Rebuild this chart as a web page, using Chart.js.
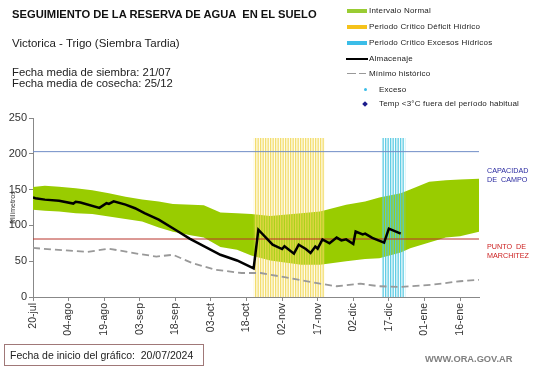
<!DOCTYPE html>
<html>
<head>
<meta charset="utf-8">
<script src="https://cdn.jsdelivr.net/npm/chart.js@4/dist/chart.umd.min.js"></script>
<style>
  body { margin:0; width:541px; height:368px; position:relative; background:#fff; overflow:hidden;
         font-family: Arial, "Liberation Sans", sans-serif; color:#111; }
  .t { position:absolute; white-space:pre; line-height:1; }
  .lg { position:absolute; white-space:pre; line-height:1; font-size:8px; color:#222; letter-spacing:0.2px; }
  .sw { position:absolute; }
</style>
</head>
<body>
<canvas id="chart" width="541" height="368" style="position:absolute;left:0;top:0"></canvas>

<div class="t" style="left:12px;top:9px;font-size:11.2px;font-weight:bold;">SEGUIMIENTO DE LA RESERVA DE AGUA  EN EL SUELO</div>
<div class="t" style="left:12px;top:38px;font-size:11.5px;color:#222;">Victorica - Trigo (Siembra Tardia)</div>
<div class="t" style="left:12px;top:66.5px;font-size:11.3px;color:#222;">Fecha media de siembra: 21/07</div>
<div class="t" style="left:12px;top:78px;font-size:11.3px;color:#222;">Fecha media de cosecha: 25/12</div>

<!-- leyenda -->
<div class="sw" style="left:347px;top:9px;width:20px;height:4px;background:#99cc33"></div>
<div class="lg" style="left:369px;top:7px">Intervalo Normal</div>
<div class="sw" style="left:347px;top:25px;width:20px;height:4px;background:#f5c21a"></div>
<div class="lg" style="left:369px;top:23px">Periodo Crítico Déficit Hídrico</div>
<div class="sw" style="left:347px;top:41px;width:20px;height:4px;background:#3bbde8"></div>
<div class="lg" style="left:369px;top:39px">Periodo Crítico Excesos Hídricos</div>
<div class="sw" style="left:346px;top:58px;width:22px;height:2px;background:#000"></div>
<div class="lg" style="left:369px;top:55px">Almacenaje</div>
<div class="sw" style="left:347px;top:72.5px;width:9px;height:1.6px;background:#999"></div>
<div class="sw" style="left:359px;top:72.5px;width:7px;height:1.6px;background:#999"></div>
<div class="lg" style="left:369px;top:70px">Mínimo histórico</div>
<div class="sw" style="left:363.5px;top:88px;width:3px;height:3px;border-radius:50%;background:#3bbde8"></div>
<div class="lg" style="left:379px;top:85.5px">Exceso</div>
<div class="sw" style="left:363px;top:101.5px;width:4px;height:4px;background:#1c1c8c;transform:rotate(45deg)"></div>
<div class="lg" style="left:379px;top:100px">Temp &lt;3°C fuera del período habitual</div>

<!-- etiquetas de referencia -->
<div class="t" style="left:487px;top:166.5px;font-size:7.2px;color:#2a2aa0;">CAPACIDAD</div>
<div class="t" style="left:487px;top:175.5px;font-size:7.2px;color:#2a2aa0;">DE  CAMPO</div>
<div class="t" style="left:487px;top:243px;font-size:7.2px;color:#cc2020;">PUNTO  DE</div>
<div class="t" style="left:487px;top:252px;font-size:7.2px;color:#cc2020;">MARCHITEZ</div>

<div style="position:absolute;left:4px;top:344px;width:200px;height:22px;border:1px solid #a07878;box-sizing:border-box;"></div>
<div class="t" style="left:10px;top:350px;font-size:10.5px;color:#222;">Fecha de inicio del gráfico:  20/07/2024</div>
<div class="t" style="left:425px;top:354.5px;font-size:9.3px;font-weight:bold;color:#808080;">WWW.ORA.GOV.AR</div>

<script>
// dias desde el 20/07 (inicio del grafico)
const tickLabels = ['20-jul','04-ago','19-ago','03-sep','18-sep','03-oct','18-oct','02-nov','17-nov','02-dic','17-dic','01-ene','16-ene'];
const axisDays = [0, 188];

// intervalo normal (banda verde)
const bandDays   = [0, 5, 11, 18, 25, 32, 39, 46, 53, 59, 67, 72, 79, 86, 92, 100, 113, 121, 132, 140, 146, 155, 159, 167, 174, 180, 188];
const bandTop    = [153.5, 155.5, 154, 152, 149, 145, 140, 136, 133.5, 130, 129, 128, 118, 117, 116, 113, 117, 119.5, 129, 133.5, 139, 145, 150, 161, 163, 164, 165];
const bandBottom = [122, 120.5, 119.5, 117, 116, 112.5, 109, 105.5, 97, 91, 86, 83, 70, 66, 58, 51, 45, 45, 50, 53, 54, 62, 68, 76, 83, 85, 91];

// almacenaje
const storageDays = [0, 1, 5, 11, 17, 18, 20, 28, 31, 32, 34, 39, 43, 47, 53, 60, 66, 79, 86, 93, 95, 101, 105, 106, 110, 112, 115, 117, 119, 120, 122, 125, 128, 130, 132, 135, 136, 139, 140, 143, 148, 150, 155];
const storageMm   = [139, 138, 136, 134.5, 130.5, 133, 132, 124.5, 131, 130, 133.5, 129, 124, 117, 108, 94, 81.5, 59, 51, 40, 94, 73, 67, 71, 60.5, 73, 67, 61.5, 70.5, 67.5, 80.5, 75, 83, 79, 80.5, 74, 91.5, 87.5, 88.5, 82.5, 76, 95.5, 88.5];

// minimo historico
const minDays = [0, 14, 23, 32, 45, 52, 59, 67, 77, 88, 96, 108, 121, 128, 138, 146, 155, 159, 168, 180, 188];
const minMm   = [68.5, 65, 63, 67.5, 60, 56.5, 59, 47.5, 38, 33.5, 33.5, 26.5, 18.6, 15, 18.6, 15, 14, 15, 17, 22, 24];

// periodos criticos
const deficitDays = [93, 123];
const excessDays  = [147, 157];
const periodTop = 222;

const capacidadCampo = 203;
const puntoMarchitez = 81;

const pts = (xs, ys) => xs.map((x, i) => ({ x: x, y: ys[i] }));
const flat = (xs, v) => xs.map(x => ({ x: x, y: v }));

function stripes(stripe, gap) {
    const c = document.createElement('canvas');
    c.width = 5; c.height = 4;
    const g = c.getContext('2d');
    g.fillStyle = gap; g.fillRect(0, 0, 5, 4);
    g.fillStyle = stripe;
    g.fillRect(0, 0, 1.3, 4);
    g.fillRect(2.5, 0, 1.3, 4);
    return g.createPattern(c, 'repeat');
}

const ctx = document.getElementById('chart').getContext('2d');
const noPts = { pointRadius: 0, pointHoverRadius: 0, tension: 0 };

new Chart(ctx, {
    type: 'line',
    data: {
        datasets: [
            { ...noPts, label: 'bajo', data: pts(bandDays, bandBottom), borderWidth: 0, fill: false, order: 10 },
            { ...noPts, label: 'Intervalo Normal', data: pts(bandDays, bandTop), borderWidth: 0, fill: '-1', backgroundColor: '#99cc00', order: 9 },
            { ...noPts, label: 'Deficit', data: flat(deficitDays, periodTop), borderWidth: 0, fill: 'origin',
              backgroundColor: stripes('rgba(240,214,80,0.8)', 'rgba(250,236,160,0.18)'), order: 8 },
            { ...noPts, label: 'Exceso', data: flat(excessDays, periodTop), borderWidth: 0, fill: 'origin',
              backgroundColor: stripes('rgba(80,200,225,0.9)', 'rgba(200,240,250,0.1)'), order: 7 },
            { ...noPts, label: 'CC', data: flat(axisDays, capacidadCampo), borderColor: '#6f8cc6', borderWidth: 1, fill: false, order: 6 },
            { ...noPts, label: 'PM', data: flat(axisDays, puntoMarchitez), borderColor: '#b8322a', borderWidth: 1, fill: false, order: 5 },
            { ...noPts, label: 'Minimo', data: pts(minDays, minMm), borderColor: '#999999', borderWidth: 1.8, borderDash: [7, 4], fill: false, order: 4 },
            { ...noPts, label: 'Almacenaje', data: pts(storageDays, storageMm), borderColor: '#000000', borderWidth: 2.5, fill: false, order: 3 }
        ]
    },
    options: {
        responsive: false,
        animation: false,
        devicePixelRatio: 1,
        layout: { padding: { left: 0, top: 118, right: 62, bottom: 0 } },
        plugins: { legend: { display: false }, tooltip: { enabled: false } },
        scales: {
            x: {
                type: 'linear',
                min: axisDays[0],
                max: axisDays[1],
                afterFit: s => { s.height = 71; },
                border: { color: '#888' },
                grid: { drawOnChartArea: false, tickLength: 4, color: '#888' },
                ticks: {
                    stepSize: 15,
                    includeBounds: false,
                    autoSkip: false,
                    minRotation: 90,
                    maxRotation: 90,
                    padding: 2,
                    color: '#333',
                    font: { family: 'Arial, "Liberation Sans"', size: 10.5 },
                    callback: v => tickLabels[v / 15] ?? ''
                }
            },
            y: {
                min: 0,
                max: 250,
                afterFit: s => { s.width = 33; },
                border: { color: '#888' },
                grid: { drawOnChartArea: false, tickLength: 4, color: '#888' },
                ticks: {
                    stepSize: 50,
                    padding: 2,
                    color: '#333',
                    font: { family: 'Arial, "Liberation Sans"', size: 11 }
                },
                title: {
                    display: true,
                    text: 'Milímetros',
                    color: '#333',
                    padding: { top: 9, bottom: 0 },
                    font: { family: 'Arial, "Liberation Sans"', size: 7 }
                }
            }
        }
    }
});
</script>
</body>
</html>
